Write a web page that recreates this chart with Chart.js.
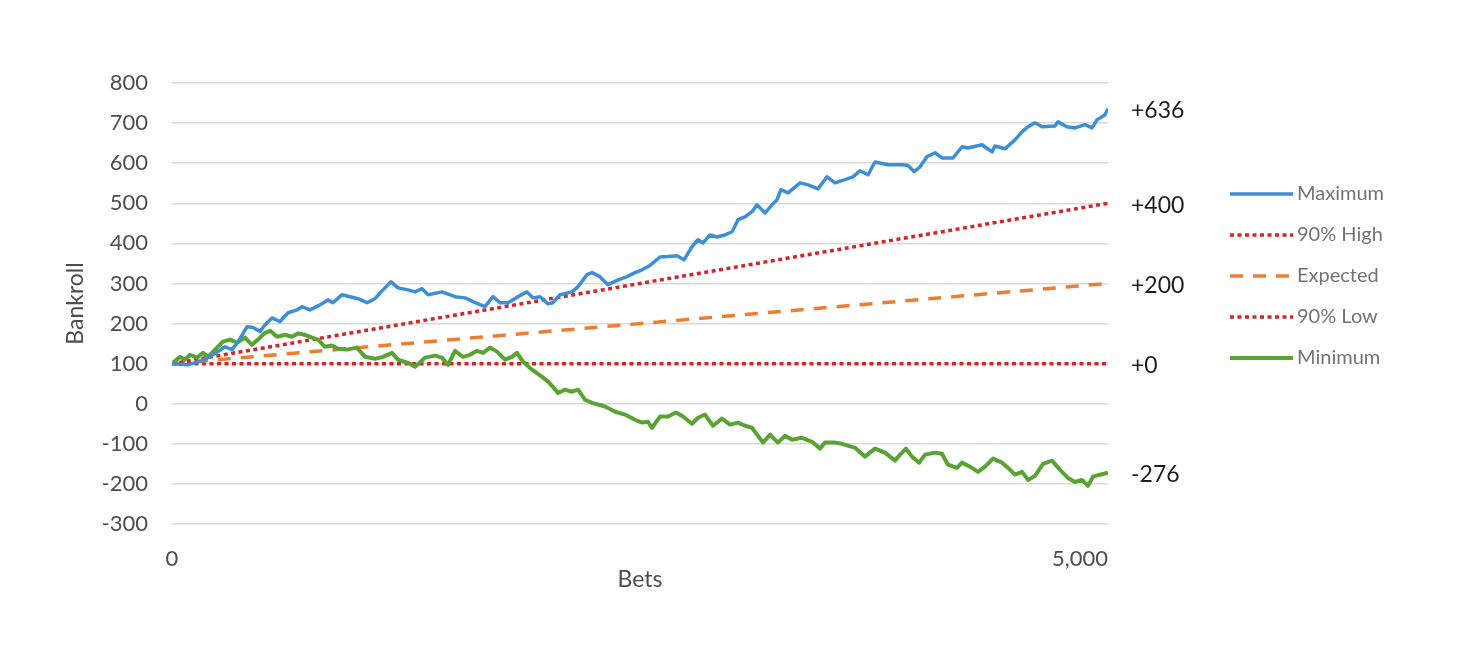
<!DOCTYPE html>
<html>
<head>
<meta charset="utf-8">
<title>Bankroll over 5,000 bets</title>
<script src="https://cdn.jsdelivr.net/npm/chart.js@4.4.1/dist/chart.umd.min.js"></script>
<style>
  html, body { margin: 0; background: #fff; }
  #wrap { width: 1460px; height: 652px; }
</style>
</head>
<body>
<div id="wrap"><canvas id="bankChart"></canvas></div>
<script>
// ── Data ──────────────────────────────────────
const MAX_BETS = [
  0, 85, 176, 246, 283, 321, 353, 401, 433, 470,
  497, 534, 577, 620, 668, 694, 737, 780, 833, 860,
  908, 951, 994, 1042, 1084, 1127, 1170, 1207, 1261, 1298,
  1336, 1368, 1442, 1512, 1565, 1619, 1672, 1715, 1752, 1795,
  1848, 1896, 1928, 1966, 2009, 2035, 2073, 2137, 2169, 2217,
  2244, 2286, 2329, 2383, 2431, 2473, 2511, 2553, 2607, 2650,
  2698, 2735, 2778, 2810, 2837, 2874, 2911, 2954, 2992, 3024,
  3061, 3098, 3125, 3168, 3205, 3232, 3253, 3291, 3355, 3398,
  3451, 3499, 3542, 3595, 3638, 3675, 3718, 3755, 3825, 3900,
  3932, 3964, 3996, 4033, 4076, 4113, 4172, 4220, 4252, 4327,
  4380, 4396, 4450, 4503, 4541, 4573, 4610, 4648, 4717, 4733,
  4781, 4824, 4877, 4915, 4941, 4984, 5000
];
const MAX_VALUES = [
  100, 97, 110, 130, 142, 135, 155, 192, 190, 180,
  197, 214, 205, 227, 234, 242, 234, 244, 259, 252,
  272, 267, 262, 252, 262, 284, 304, 289, 284, 279,
  287, 272, 279, 267, 264, 252, 242, 267, 252, 252,
  267, 279, 264, 267, 249, 252, 272, 279, 292, 322,
  327, 317, 297, 309, 317, 327, 334, 345, 366, 367,
  369, 359, 392, 409, 401, 421, 416, 421, 429, 459,
  466, 479, 496, 476, 496, 509, 534, 526, 551, 546,
  536, 566, 551, 559, 566, 581, 571, 603, 596, 596,
  594, 579, 591, 616, 626, 613, 613, 641, 638, 646,
  628, 643, 636, 658, 678, 691, 701, 691, 693, 703,
  691, 688, 696, 688, 708, 721, 736
];

const MIN_BETS = [
  0, 43, 69, 96, 134, 166, 192, 230, 272, 310,
  347, 390, 427, 459, 497, 524, 561, 604, 641, 673,
  710, 748, 780, 817, 855, 887, 935, 988, 1031, 1084,
  1127, 1175, 1207, 1261, 1298, 1352, 1405, 1442, 1474, 1512,
  1554, 1592, 1629, 1661, 1699, 1736, 1779, 1816, 1843, 1875,
  1923, 1977, 2009, 2035, 2062, 2099, 2137, 2169, 2206, 2244,
  2276, 2313, 2367, 2420, 2473, 2511, 2543, 2564, 2607, 2650,
  2692, 2730, 2778, 2810, 2847, 2890, 2938, 2981, 3024, 3061,
  3098, 3157, 3195, 3237, 3275, 3312, 3365, 3419, 3462, 3488,
  3542, 3579, 3649, 3702, 3755, 3809, 3862, 3889, 3921, 3953,
  3991, 4023, 4076, 4113, 4145, 4193, 4220, 4263, 4306, 4343,
  4386, 4434, 4466, 4503, 4541, 4573, 4610, 4653, 4701, 4744,
  4786, 4824, 4861, 4893, 4920, 4957, 5000
];
const MIN_VALUES = [
  100, 117, 110, 122, 115, 127, 117, 135, 155, 160,
  152, 165, 147, 160, 177, 182, 167, 172, 167, 175,
  172, 165, 160, 142, 145, 137, 135, 140, 117, 112,
  117, 127, 110, 102, 92, 115, 120, 115, 97, 132,
  117, 122, 132, 127, 140, 130, 110, 117, 127, 105,
  85, 67, 55, 42, 27, 35, 30, 35, 10, 2,
  -2, -7, -20, -27, -40, -47, -45, -60, -32, -32,
  -22, -32, -50, -35, -27, -55, -37, -52, -47, -55,
  -60, -97, -77, -97, -80, -90, -85, -95, -112, -97,
  -97, -100, -110, -132, -112, -122, -142, -127, -112, -132,
  -147, -127, -122, -125, -152, -160, -147, -157, -170, -157,
  -137, -147, -160, -177, -170, -190, -180, -150, -142, -165,
  -185, -195, -190, -205, -182, -177, -172
];

// straight reference lines: start and end of the run
const LINE_BETS = [0, 5000];
const HIGH_90   = [100, 500];
const EXPECTED  = [100, 300];
const LOW_90    = [100, 100];

const SERIES_NAMES = ['Maximum', '90% High', 'Expected', '90% Low', 'Minimum'];
const END_LABELS   = ['+636', '+400', '+200', '+0', '-276'];

const X_TICKS       = [0, 5000];
const X_TICK_LABELS = ['0', '5,000'];
const Y_MIN = -300, Y_MAX = 800, Y_STEP = 100;

// ── Helpers ──────────────────────────────────
const FONT = 'Lato, "Liberation Sans", sans-serif';

function zip(xs, ys) {
  return xs.map((x, i) => ({ x, y: ys[i] }));
}

// x tick labels, end-of-line labels and legend
const extrasPlugin = {
  id: 'extras',
  afterDraw(chart) {
    const { ctx, chartArea, scales } = chart;
    ctx.save();
    ctx.textBaseline = 'middle';

    // x ticks: first centred, last flush with the plot edge
    ctx.font = `22px ${FONT}`;
    ctx.fillStyle = '#4D4D4D';
    X_TICKS.forEach((t, i) => {
      ctx.textAlign = i === X_TICKS.length - 1 ? 'right' : 'center';
      ctx.fillText(X_TICK_LABELS[i], scales.x.getPixelForValue(t), chartArea.bottom + 35);
    });

    // labels at the end of each line
    ctx.font = `23px ${FONT}`;
    ctx.fillStyle = '#1E1E1E';
    ctx.textAlign = 'left';
    chart.data.datasets.forEach((ds, i) => {
      const last = ds.data[ds.data.length - 1];
      ctx.fillText(END_LABELS[i], chartArea.right + 23, scales.y.getPixelForValue(last.y) + 2);
    });

    // legend
    const lx = chartArea.right + 122;
    const ly = 194;
    ctx.font = `20px ${FONT}`;
    chart.data.datasets.forEach((ds, i) => {
      const y = ly + i * 41;
      ctx.strokeStyle = ds.borderColor;
      ctx.lineWidth = ds.borderWidth;
      ctx.setLineDash(ds.borderDash || []);
      ctx.beginPath();
      ctx.moveTo(lx, y);
      ctx.lineTo(lx + 63, y);
      ctx.stroke();
      ctx.setLineDash([]);
      ctx.fillStyle = '#737373';
      ctx.fillText(ds.label, lx + 67, y);
    });
    ctx.restore();
  }
};

// ── Chart ────────────────────────────────────
const RED = '#D2262B';
const DOTS = [4, 3.5];

const lineBase = { pointRadius: 0, tension: 0, fill: false, borderJoinStyle: 'round' };

new Chart(document.getElementById('bankChart'), {
  type: 'line',
  data: {
    datasets: [
      { ...lineBase, label: SERIES_NAMES[0], data: zip(MAX_BETS, MAX_VALUES),
        borderColor: '#3D8ED8', borderWidth: 3.5, order: 0 },
      { ...lineBase, label: SERIES_NAMES[1], data: zip(LINE_BETS, HIGH_90),
        borderColor: RED, borderWidth: 3.5, borderDash: DOTS, order: 2 },
      { ...lineBase, label: SERIES_NAMES[2], data: zip(LINE_BETS, EXPECTED),
        borderColor: '#ED7D31', borderWidth: 3.5, borderDash: [13, 10], order: 2 },
      { ...lineBase, label: SERIES_NAMES[3], data: zip(LINE_BETS, LOW_90),
        borderColor: RED, borderWidth: 3.5, borderDash: DOTS, order: 2 },
      { ...lineBase, label: SERIES_NAMES[4], data: zip(MIN_BETS, MIN_VALUES),
        borderColor: '#58A331', borderWidth: 4, order: 1 }
    ]
  },
  options: {
    responsive: true,
    maintainAspectRatio: false,
    animation: false,
    layout: { padding: { top: 83, right: 352, bottom: 59, left: 0 } },
    plugins: {
      legend: { display: false },
      tooltip: { enabled: false }
    },
    scales: {
      x: {
        type: 'linear',
        min: 0,
        max: 5000,
        grid: { display: false },
        border: { display: false },
        ticks: { display: false },
        title: {
          display: true,
          text: 'Bets',
          color: '#4D4D4D',
          font: { family: FONT, size: 23 },
          padding: { top: 0, bottom: 0 }
        },
        afterFit(scale) { scale.height = 69; }
      },
      y: {
        min: Y_MIN,
        max: Y_MAX,
        grid: { color: '#D9D9D9', lineWidth: 1.5, drawTicks: false },
        border: { display: false },
        ticks: {
          stepSize: Y_STEP,
          padding: 24,
          color: '#4D4D4D',
          font: { family: FONT, size: 22 }
        },
        title: {
          display: true,
          text: 'Bankroll',
          color: '#4D4D4D',
          font: { family: FONT, size: 23 },
          padding: { top: 62, bottom: 0 }
        },
        afterFit(scale) { scale.width = 172; }
      }
    }
  },
  plugins: [extrasPlugin]
});
</script>
</body>
</html>
